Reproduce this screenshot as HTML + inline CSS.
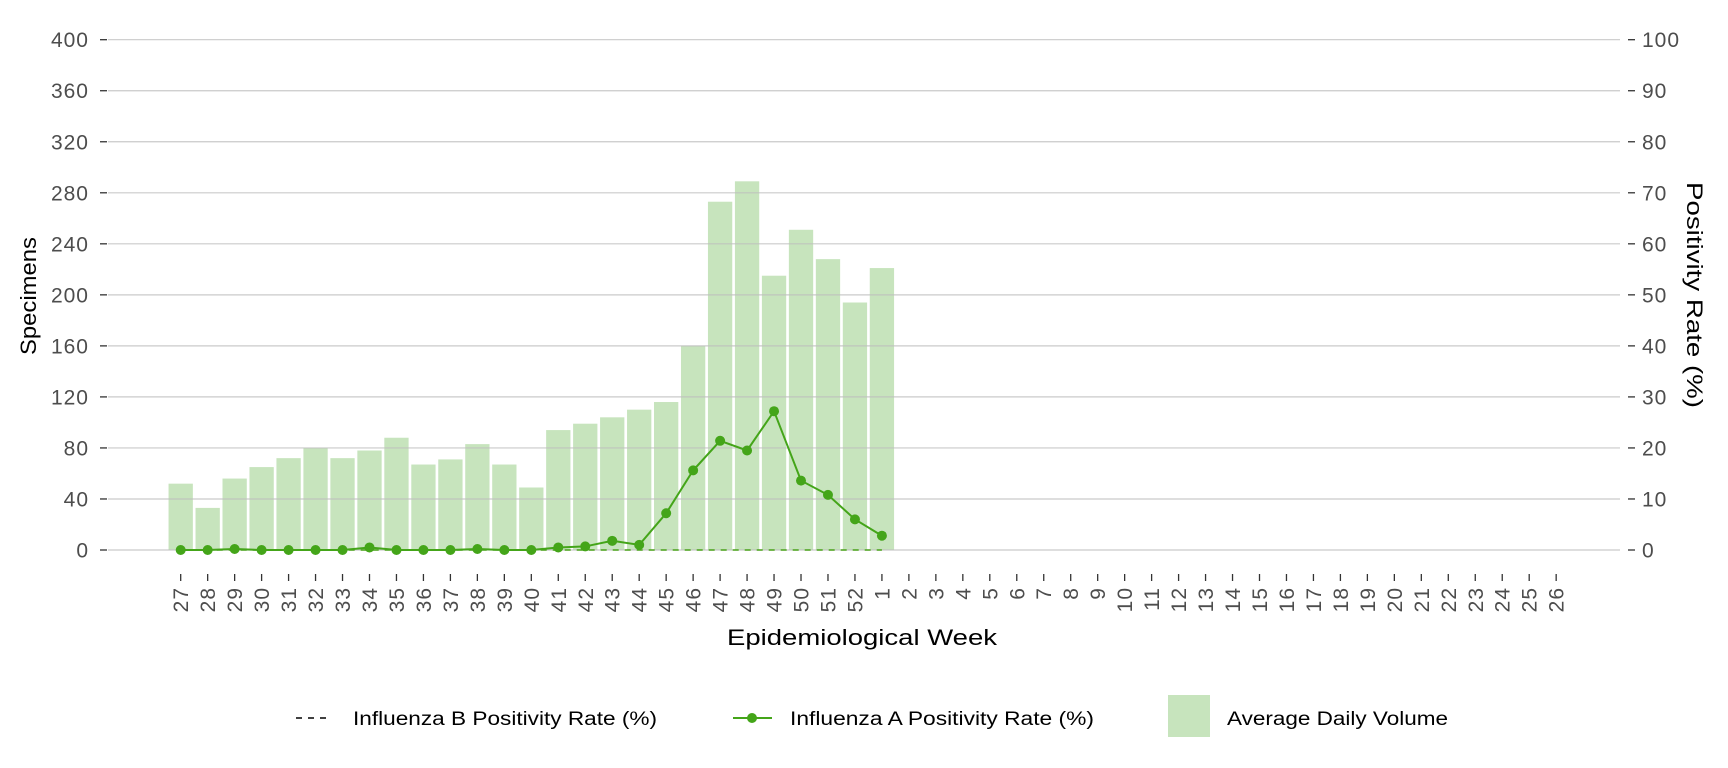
<!DOCTYPE html>
<html><head><meta charset="utf-8"><style>
body{margin:0;background:#fff}
svg{display:block}
text{font-family:"Liberation Sans",sans-serif}
</style></head><body>
<svg width="1728" height="768" viewBox="0 0 1728 768" xmlns="http://www.w3.org/2000/svg">
<g id="g"></g>
</svg>
<script>
const NS="http://www.w3.org/2000/svg";
const g=document.getElementById('g');
function el(t,a,txt){const e=document.createElementNS(NS,t);for(const k in a)e.setAttribute(k,a[k]);if(txt!==undefined)e.textContent=txt;g.appendChild(e);return e;}
const L=108,R=1620,Y0=550,S=(550-39.7)/400;
const y=v=>Y0-v*S;
const X0=180.7,DX=26.97;
const x=i=>X0+i*DX;
const vols=[52,33,56,65,72,80,72,78,88,67,71,83,67,49,94,99,104,110,116,160,273,289,215,251,228,194,221];
const fa=[0,0,0.2,0,0,0,0,0.5,0,0,0,0.2,0,0,0.5,0.7,1.8,1,7.2,15.6,21.4,19.5,27.2,13.6,10.8,6,2.8];
const bw=24.3;
vols.forEach((v,i)=>el('rect',{x:x(i)-bw/2,y:y(v),width:bw,height:v*S,fill:'#c7e4bd'}));
for(let v=0;v<=400;v+=40){
 el('line',{x1:L,x2:R,y1:y(v),y2:y(v),stroke:'#bdbdbd','stroke-opacity':0.8,'stroke-width':1.2});
 el('line',{x1:100,x2:107,y1:y(v),y2:y(v),stroke:'#333','stroke-width':1.3});
 el('text',{x:89,y:y(v)+7.5,'text-anchor':'end','font-size':21,'letter-spacing':1,fill:'#4d4d4d'},v);
 el('line',{x1:1628,x2:1635,y1:y(v),y2:y(v),stroke:'#333','stroke-width':1.3});
 el('text',{x:1642,y:y(v)+7.5,'font-size':21,'letter-spacing':1,fill:'#4d4d4d'},v/4);
}
el('line',{x1:x(0),x2:x(26),y1:Y0,y2:Y0,stroke:'#4aa319','stroke-width':1.5,'stroke-dasharray':'6,6'});
el('polyline',{points:fa.map((v,i)=>x(i)+','+y(v*4)).join(' '),fill:'none',stroke:'#44a519','stroke-width':2});
fa.forEach((v,i)=>el('circle',{cx:x(i),cy:y(v*4),r:5,fill:'#44a519'}));
const wk=[];for(let w=27;w<=52;w++)wk.push(w);for(let w=1;w<=26;w++)wk.push(w);
wk.forEach((w,i)=>{
 el('line',{x1:x(i),x2:x(i),y1:574,y2:581,stroke:'#333','stroke-width':1.3});
 el('text',{x:0,y:0,transform:`translate(${x(i)+7.5},587) rotate(-90)`,'text-anchor':'end','font-size':21,'letter-spacing':1,fill:'#4d4d4d'},w);
});
el('text',{x:727,y:645,'font-size':22,textLength:270,lengthAdjust:'spacingAndGlyphs',fill:'#000'},'Epidemiological Week');
el('text',{x:0,y:0,transform:'translate(36,355) rotate(-90)','font-size':22,textLength:118,lengthAdjust:'spacingAndGlyphs',fill:'#000'},'Specimens');
el('text',{x:0,y:0,transform:'translate(1687,182) rotate(90)','font-size':22,textLength:226,lengthAdjust:'spacingAndGlyphs',fill:'#000'},'Positivity Rate (%)');
el('line',{x1:296,x2:332,y1:718,y2:718,stroke:'#000','stroke-width':1.5,'stroke-dasharray':'6,6'});
el('text',{x:353,y:725,'font-size':19,textLength:304,lengthAdjust:'spacingAndGlyphs'},'Influenza B Positivity Rate (%)');
el('line',{x1:733,x2:772,y1:718,y2:718,stroke:'#44a519','stroke-width':2});
el('circle',{cx:752,cy:718,r:5,fill:'#44a519'});
el('text',{x:790,y:725,'font-size':19,textLength:304,lengthAdjust:'spacingAndGlyphs'},'Influenza A Positivity Rate (%)');
el('rect',{x:1168,y:695,width:42,height:42,fill:'#c7e4bd'});
el('text',{x:1227,y:725,'font-size':19,textLength:221,lengthAdjust:'spacingAndGlyphs'},'Average Daily Volume');
</script>
</body></html>
